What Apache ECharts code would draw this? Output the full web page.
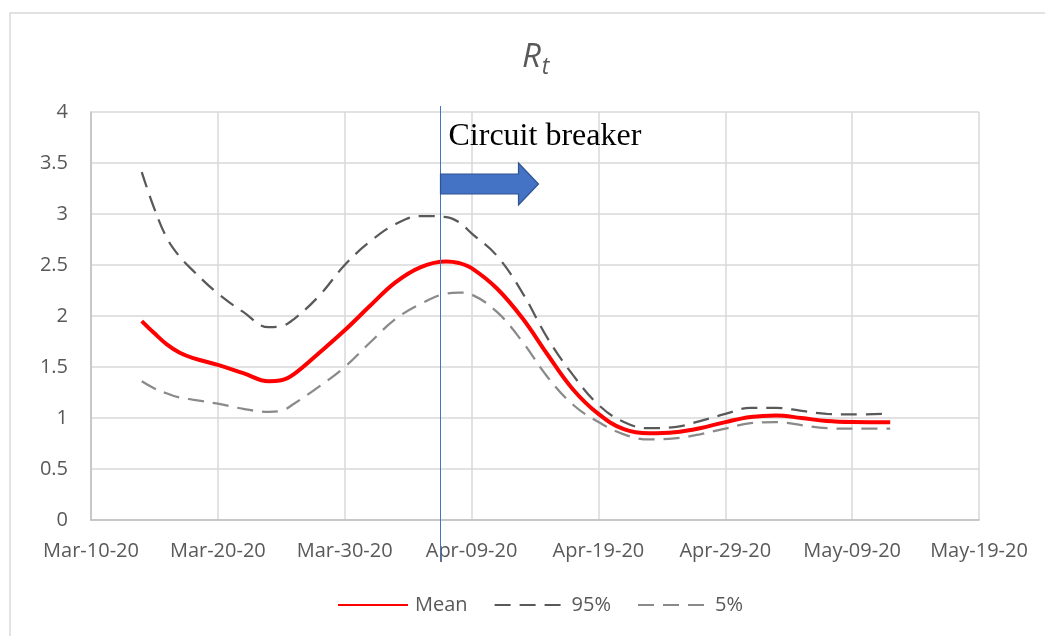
<!DOCTYPE html>
<html>
<head>
<meta charset="utf-8">
<script src="https://cdn.jsdelivr.net/npm/echarts@6/dist/echarts.min.js"></script>
<style>
html,body{margin:0;padding:0;background:#fff;}
#chart{width:1045px;height:636px;}
</style>
</head>
<body>
<div id="chart"></div>
<script>
// Day offsets from Mar-10-20
const days = [4,5,6,7,8,10,12,14,15,16,18,20,22,24,26,28,29,30,32,34,36,38,40,42,44,46,48,50,52,54,56,58,60,63];
const meanValues = [1.95,1.83,1.72,1.64,1.59,1.52,1.44,1.36,1.37,1.43,1.64,1.86,2.10,2.33,2.48,2.535,2.52,2.47,2.27,1.98,1.62,1.28,1.04,0.89,0.85,0.86,0.90,0.96,1.01,1.025,1.00,0.97,0.96,0.958];
const p95Values = [3.41,3.05,2.76,2.58,2.45,2.22,2.04,1.89,1.90,1.97,2.20,2.50,2.73,2.90,2.98,2.97,2.92,2.81,2.59,2.23,1.78,1.42,1.13,0.96,0.90,0.91,0.97,1.04,1.10,1.10,1.07,1.04,1.035,1.043];
const p5Values = [1.36,1.29,1.24,1.20,1.18,1.14,1.09,1.06,1.07,1.14,1.31,1.50,1.74,1.97,2.12,2.22,2.23,2.21,2.04,1.75,1.40,1.13,0.96,0.84,0.79,0.80,0.84,0.896,0.95,0.96,0.93,0.90,0.895,0.895];
const xTickLabels = ['Mar-10-20','Mar-20-20','Mar-30-20','Apr-09-20','Apr-19-20','Apr-29-20','May-09-20','May-19-20'];
const seriesNames = ['Mean','95%','5%'];
const breakerDay = 27.5;
const breakerLabel = 'Circuit breaker';

const FONT = '"Open Sans", "Noto Sans", sans-serif';
const chart = echarts.init(document.getElementById('chart'));
const pair = vals => days.map((d, i) => [d, vals[i]]);

chart.setOption({
  animation: false,
  backgroundColor: '#fff',
  title: {
    text: '{r|R}{t|t}',
    left: 517, top: 33,
    textStyle: {
      fontWeight: 'normal',
      rich: {
        r: {fontSize: 33, fontStyle: 'italic', fontWeight: 'normal', color: '#595959', fontFamily: FONT, lineHeight: 40},
        t: {fontSize: 23, fontStyle: 'italic', fontWeight: 'normal', color: '#595959', fontFamily: FONT, padding: [18, 0, 0, 1], lineHeight: 40}
      }
    }
  },
  grid: {left: 91, right: 66, top: 112, bottom: 116, containLabel: false},
  legend: {
    top: 590, left: 332,
    itemWidth: 70, itemHeight: 14, itemGap: 26,
    itemStyle: {opacity: 0},
    textStyle: {fontFamily: FONT, fontSize: 20, color: '#595959', padding: [0, 0, 0, 2]},
    data: seriesNames
  },
  xAxis: {
    type: 'value', min: 0, max: 70, interval: 10,
    axisLine: {show: true, lineStyle: {color: '#bfbfbf', width: 1.5}},
    axisTick: {show: false},
    splitLine: {show: true, lineStyle: {color: '#d9d9d9', width: 1.5}},
    axisLabel: {
      fontFamily: FONT, fontSize: 20, color: '#595959', margin: 21,
      formatter: v => xTickLabels[Math.round(v / 10)] || ''
    }
  },
  yAxis: {
    type: 'value', min: 0, max: 4, interval: 0.5,
    axisLine: {show: true, lineStyle: {color: '#bfbfbf', width: 1.5}},
    axisTick: {show: false},
    splitLine: {show: true, lineStyle: {color: '#d9d9d9', width: 1.5}},
    axisLabel: {fontFamily: FONT, fontSize: 20, color: '#595959', margin: 23}
  },
  series: [
    {name: seriesNames[0], type: 'line', data: pair(meanValues), smooth: 0.4, symbol: 'none',
     lineStyle: {color: '#ff0000', width: 4}, itemStyle: {color: '#ff0000'}, z: 5},
    {name: seriesNames[1], type: 'line', data: pair(p95Values), smooth: 0.4, symbol: 'none',
     lineStyle: {color: '#595959', width: 2.25, type: [16, 9]}, itemStyle: {color: '#595959'}},
    {name: seriesNames[2], type: 'line', data: pair(p5Values), smooth: 0.4, symbol: 'none',
     lineStyle: {color: '#8a8a8a', width: 2.25, type: [16, 9]}, itemStyle: {color: '#8a8a8a'}}
  ]
});

const px = Math.round(chart.convertToPixel({xAxisIndex: 0}, breakerDay)) + 0.5;
chart.setOption({
  graphic: [
    {type: 'rect', silent: true, z: -10, shape: {x: 10, y: 13, width: 1100, height: 700},
     style: {fill: 'none', stroke: '#d9d9d9', lineWidth: 1.5}},
    {type: 'line', z: 10, shape: {x1: px, y1: 106, x2: px, y2: 561},
     style: {stroke: '#4472c4', lineWidth: 1}},
    {type: 'polygon', z: 10, shape: {points: [
      [px, 174], [px + 78, 174], [px + 78, 163], [px + 98, 184], [px + 78, 205], [px + 78, 194], [px, 194]
    ]}, style: {fill: '#4472c4', stroke: '#2f528f', lineWidth: 1.2}},
    {type: 'text', z: 10, x: px + 8, y: 137,
     style: {text: breakerLabel, fontFamily: '"Liberation Serif", "DejaVu Serif", serif', fontSize: 32,
             fill: '#000', verticalAlign: 'middle', align: 'left'}}
  ]
});
</script>
</body>
</html>
